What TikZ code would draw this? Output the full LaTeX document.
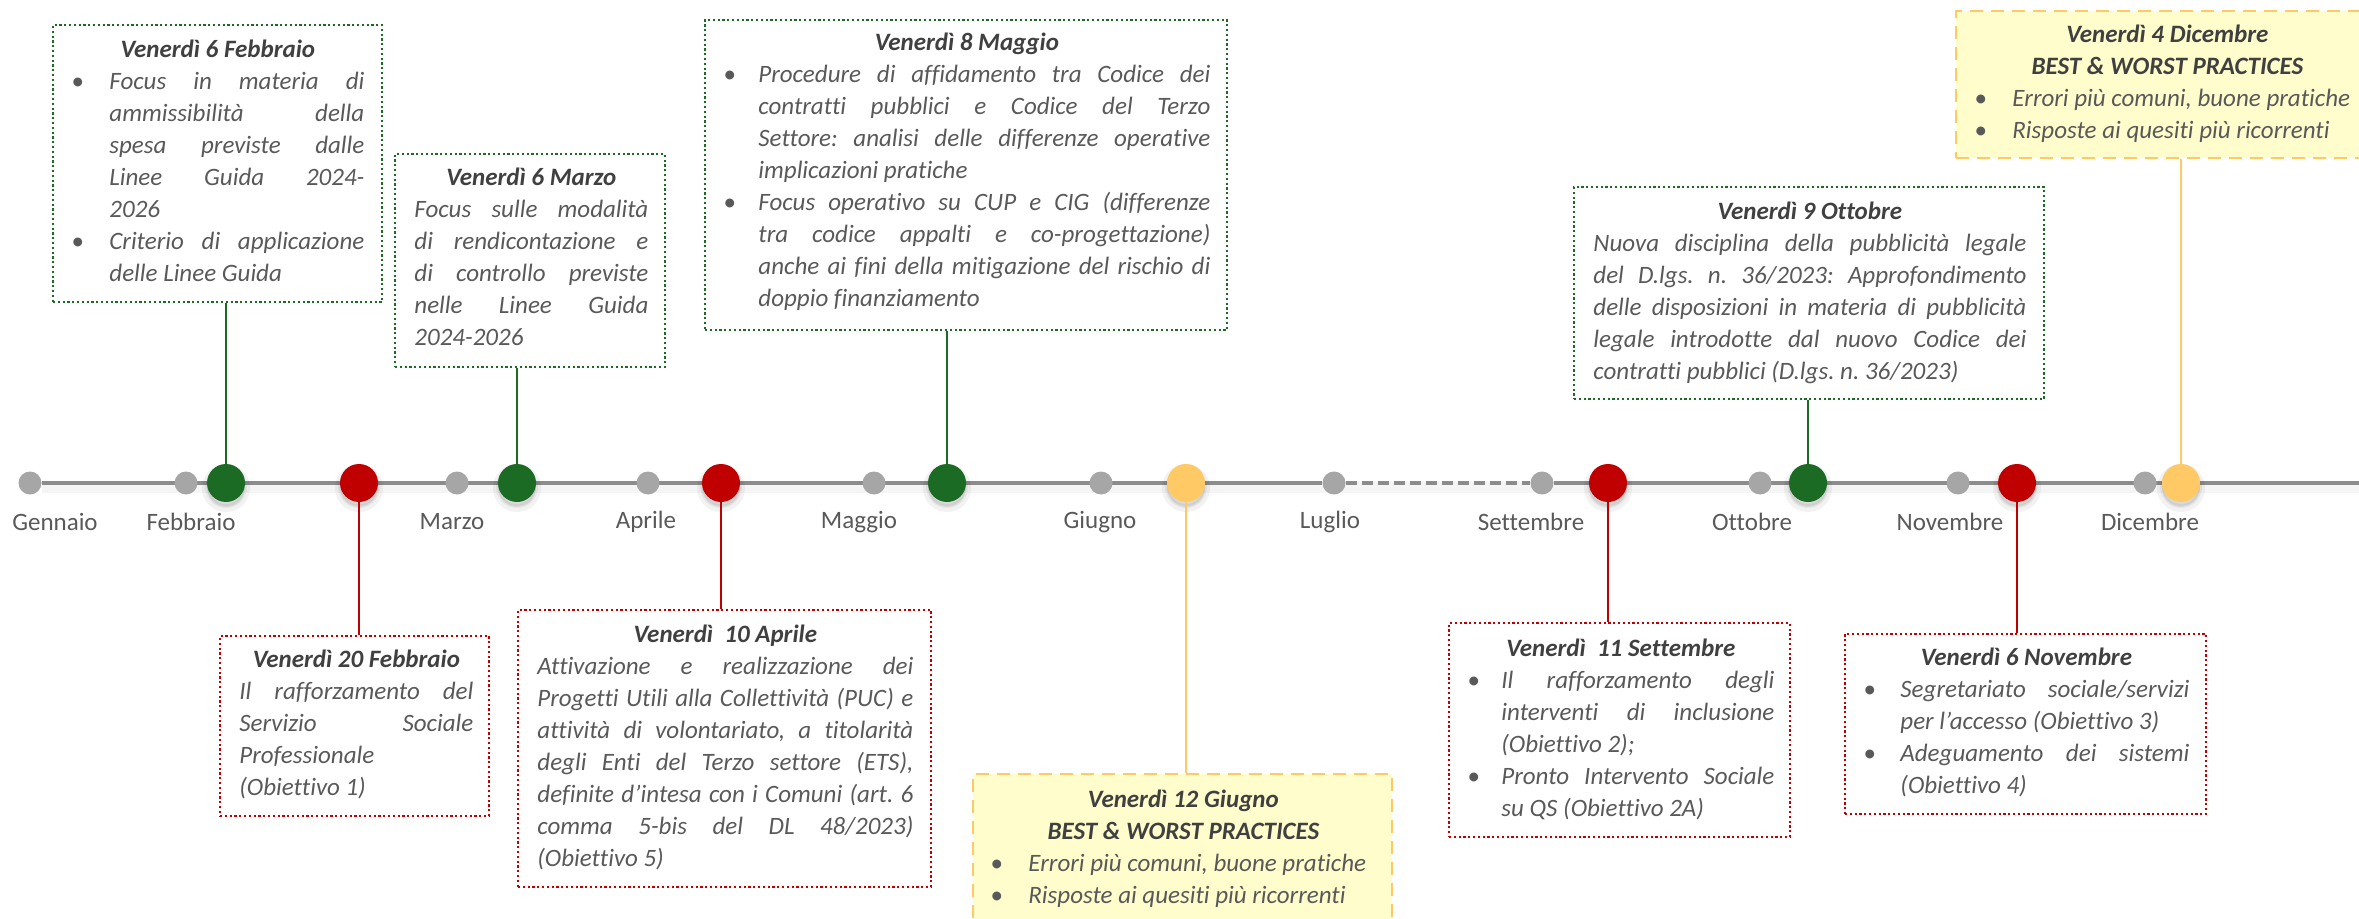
\documentclass[tikz,border=0pt]{standalone}
\usepackage{fontspec}
\setmainfont{Carlito}[Ligatures={TeX,NoCommon}]
\usetikzlibrary{fit,backgrounds}
\definecolor{tlgreen}{RGB}{27,107,36}
\definecolor{tlred}{RGB}{192,0,0}
\definecolor{tlyellow}{RGB}{255,201,102}
\definecolor{tlfill}{RGB}{255,253,204}
\definecolor{tlgrey}{RGB}{166,166,166}
\definecolor{tlline}{RGB}{140,140,140}
\definecolor{tltext}{RGB}{89,89,89}
\definecolor{tltitle}{RGB}{64,64,64}

\tolerance=10000
\hbadness=10000
\hyphenpenalty=10000
\exhyphenpenalty=10000
\frenchspacing

\newcommand{\evtitle}[1]{{\centering\bfseries\color{tltitle}\rule{0pt}{10pt}#1\par}}
\newcommand{\evitem}[2]{\par\noindent\hangindent=#1\hangafter=1\makebox[#1][l]{\textbullet}#2\par}

\tikzset{
  evtext/.style={inner sep=0pt, anchor=north west, align=justify, text=tltext,
    font=\fontsize{12.5}{16}\selectfont\itshape},
  greenbox/.style={draw=tlgreen, inner sep=0pt, line width=1.1pt, dash pattern=on 1.1pt off 1.3pt},
  redbox/.style={draw=tlred, inner sep=0pt, line width=1.1pt, dash pattern=on 1.1pt off 1.3pt},
  yellowbox/.style={draw=tlyellow, fill=tlfill, inner sep=0pt, line width=1.3pt, dash pattern=on 6.5pt off 4pt},
  softshadow/.style={preaction={fill=black, opacity=0.05, transform canvas={yshift=-2.5pt}, draw=black, line width=5pt},
    preaction={fill=black, opacity=0.05, transform canvas={yshift=-2pt}, draw=black, line width=2pt}},
  monthdot/.style={circle, fill=tlgrey, minimum size=11.5pt, inner sep=0pt},
  evdot/.style={circle, minimum size=19pt, inner sep=0pt, softshadow},
  monthlabel/.style={text=tltext, font=\fontsize{12.5}{15}\selectfont},
  tline/.style={tlline, line width=1.6pt},
  link/.style={line width=1.4pt}
}

\begin{document}
\begin{tikzpicture}[x=0.5pt, y=-0.5pt]
  \useasboundingbox (0,0) rectangle (2359,919);

  % Months on the time line
  \foreach \mx/\lx/\mn/\ml in {30/55/mGen/Gennaio, 186/191/mFeb/Febbraio,
      457/452/mMar/Marzo, 648/646/mApr/Aprile, 874/859/mMag/Maggio,
      1101/1100/mGiu/Giugno, 1334/1330/mLug/Luglio, 1542/1531/mSet/Settembre,
      1760/1752/mOtt/Ottobre, 1958/1950/mNov/Novembre, 2145/2150/mDic/Dicembre}{
    \node[monthdot] (\mn) at (\mx,483) {};
    \node[monthlabel] (\mn-l) at (\lx,522) {\ml};
  }
  \coordinate (tlend) at (2365,483);

  % Time line (Agosto skipped)
  \begin{scope}[on background layer]
    \draw[black, opacity=0.04, line width=6pt, transform canvas={yshift=-2pt}] (mGen) -- (tlend);
    \draw[tline] (mGen) -- (mLug);
    \draw[tline, dash pattern=on 5.5pt off 2.5pt] (mLug) -- (mSet);
    \draw[tline] (mSet) -- (tlend);
  \end{scope}

  % Event dots
  \node[evdot, fill=tlgreen] (eFeb6) at (226,483) {};
  \node[evdot, fill=tlred] (eFeb20) at (359,483) {};
  \node[evdot, fill=tlgreen] (eMar6) at (517,483) {};
  \node[evdot, fill=tlred] (eApr10) at (721,483) {};
  \node[evdot, fill=tlgreen] (eMay8) at (947,483) {};
  \node[evdot, fill=tlyellow] (eJun12) at (1186,483) {};
  \node[evdot, fill=tlred] (eSep11) at (1608,483) {};
  \node[evdot, fill=tlgreen] (eOct9) at (1808,483) {};
  \node[evdot, fill=tlred] (eNov6) at (2017,483) {};
  \node[evdot, fill=tlyellow] (eDec4) at (2181,483) {};

  % Boxes above the line
  \node[greenbox, fit={(53,25) (382,302)}] (bFeb6) {};
  \node[evtext, text width=146.5pt] (tFeb6) at (71,37) {%
    \evtitle{Venerdì 6 Febbraio}
    \evitem{19pt}{Focus in materia di\linebreak ammissibilità della\linebreak
      spesa previste dalle\linebreak Linee Guida 2024-\linebreak 2026}
    \evitem{19pt}{Criterio di applicazione\linebreak delle Linee Guida}};

  \node[greenbox, fit={(395,154) (665,367)}] (bMar6) {};
  \node[evtext, text width=117pt] (tMar6) at (414,165) {%
    \evtitle{Venerdì 6 Marzo}
    Focus sulle modalità\linebreak di rendicontazione e\linebreak
    di controllo previste\linebreak nelle Linee Guida\linebreak 2024-2026};

  \node[greenbox, fit={(705,20) (1227,330)}] (bMay8) {};
  \node[evtext, text width=243.5pt] (tMay8) at (723,30) {%
    \evtitle{Venerdì 8 Maggio}
    \evitem{17.5pt}{Procedure di affidamento tra Codice dei\linebreak
      contratti pubblici e Codice del Terzo\linebreak
      Settore: analisi delle differenze operative\linebreak implicazioni pratiche}
    \evitem{17.5pt}{Focus operativo su CUP e CIG (differenze\linebreak
      tra codice appalti e co-progettazione)\linebreak
      anche ai fini della mitigazione del rischio di\linebreak doppio finanziamento}};

  \node[greenbox, fit={(1574,187) (2044,399)}] (bOct9) {};
  \node[evtext, text width=216.5pt] (tOct9) at (1593,199) {%
    \evtitle{Venerdì 9 Ottobre}
    Nuova disciplina della pubblicità legale\linebreak
    del D.lgs. n. 36/2023: Approfondimento\linebreak
    delle disposizioni in materia di pubblicità\linebreak
    legale introdotte dal nuovo Codice dei\linebreak
    contratti pubblici (D.lgs. n. 36/2023)};

  \node[yellowbox, fit={(1956,11) (2400,158)}] (bDec4) {};
  \node[evtext, text width=193pt] (tDec4) at (1974,22) {%
    \evtitle{Venerdì 4 Dicembre}
    \evtitle{BEST \& WORST PRACTICES}
    \evitem{19pt}{Errori più comuni, buone pratiche}
    \evitem{19pt}{Risposte ai quesiti più ricorrenti}};

  % Boxes below the line
  \node[redbox, fit={(220,636) (489,816)}] (bFeb20) {};
  \node[evtext, text width=117pt] (tFeb20) at (239,647) {%
    \evtitle{Venerdì 20 Febbraio}
    Il rafforzamento del\linebreak Servizio Sociale\linebreak
    Professionale\newline (Obiettivo 1)};

  \node[redbox, fit={(518,610) (931,887)}] (bApr10) {};
  \node[evtext, text width=188pt] (tApr10) at (537,622) {%
    \evtitle{Venerdì\ \ 10 Aprile}
    Attivazione e realizzazione dei\linebreak
    Progetti Utili alla Collettività (PUC) e\linebreak
    attività di volontariato, a titolarità\linebreak
    degli Enti del Terzo settore (ETS),\linebreak
    definite d’intesa con i Comuni (art. 6\linebreak
    comma 5-bis del DL 48/2023)\linebreak (Obiettivo 5)};

  \node[yellowbox, fit={(973,774) (1392,960)}] (bJun12) {};
  \node[evtext, text width=193pt] (tJun12) at (990,787) {%
    \evtitle{Venerdì 12 Giugno}
    \evtitle{BEST \& WORST PRACTICES}
    \evitem{19pt}{Errori più comuni, buone pratiche}
    \evitem{19pt}{Risposte ai quesiti più ricorrenti}};

  \node[redbox, fit={(1449,623) (1790,837)}] (bSep11) {};
  \node[evtext, text width=153.5pt] (tSep11) at (1467,636) {%
    \evtitle{Venerdì\ \ 11 Settembre}
    \evitem{17pt}{Il rafforzamento degli\linebreak interventi di inclusione\linebreak
      (Obiettivo 2);}
    \evitem{17pt}{Pronto Intervento Sociale\linebreak su QS (Obiettivo 2A)}};

  \node[redbox, fit={(1845,634) (2206,814)}] (bNov6) {};
  \node[evtext, text width=163pt] (tNov6) at (1863,645) {%
    \evtitle{Venerdì 6 Novembre}
    \evitem{18.5pt}{Segretariato sociale/servizi\linebreak per l’accesso (Obiettivo 3)}
    \evitem{18.5pt}{Adeguamento dei sistemi\linebreak (Obiettivo 4)}};

  % Links from dots to boxes
  \draw[link, tlgreen] (eFeb6) -- (eFeb6 |- bFeb6.south);
  \draw[link, tlgreen] (eMar6) -- (eMar6 |- bMar6.south);
  \draw[link, tlgreen] (eMay8) -- (eMay8 |- bMay8.south);
  \draw[link, tlgreen] (eOct9) -- (eOct9 |- bOct9.south);
  \draw[link, tlyellow] (eDec4) -- (eDec4 |- bDec4.south);
  \draw[link, tlred] (eFeb20) -- (eFeb20 |- bFeb20.north);
  \draw[link, tlred] (eApr10) -- (eApr10 |- bApr10.north);
  \draw[link, tlyellow] (eJun12) -- (eJun12 |- bJun12.north);
  \draw[link, tlred] (eSep11) -- (eSep11 |- bSep11.north);
  \draw[link, tlred] (eNov6) -- (eNov6 |- bNov6.north);
\end{tikzpicture}
\end{document}
